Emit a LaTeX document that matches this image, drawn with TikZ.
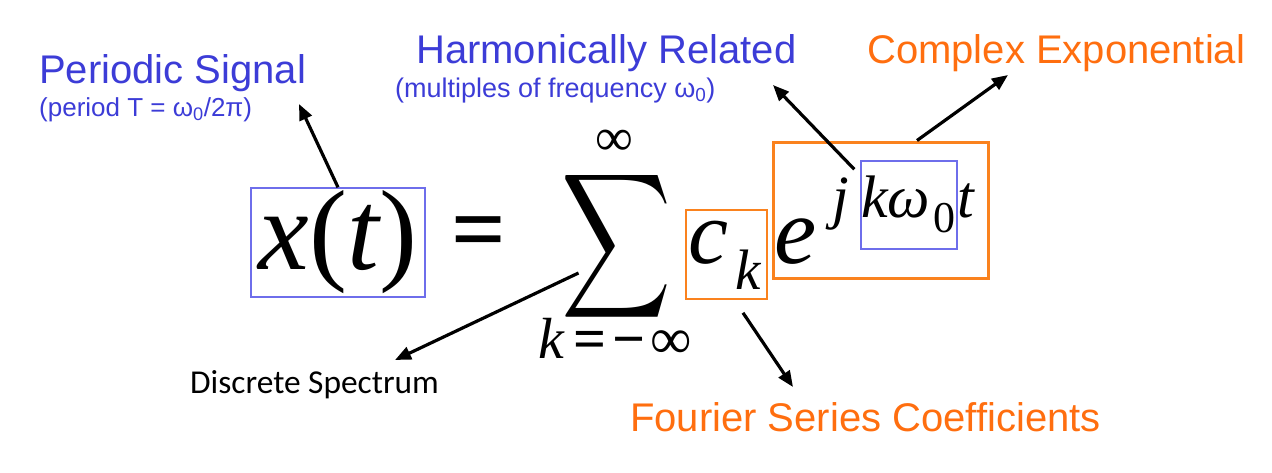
\documentclass[tikz,border=0pt]{standalone}
\usepackage{graphicx}
\usepackage{fontspec}
\usetikzlibrary{arrows.meta}
\setmainfont{Liberation Sans}
\newfontfamily\tms{Liberation Serif}
\newfontfamily\calib{Carlito}
\definecolor{lblblue}{RGB}{60,60,215}
\definecolor{boxblue}{RGB}{110,110,235}
\definecolor{lblorange}{RGB}{255,110,15}
\definecolor{boxorange}{RGB}{250,130,30}
\newcommand\sz[1]{\fontsize{#1}{#1}\selectfont}

\begin{document}
\begin{tikzpicture}[x=1pt,y=-1pt,
    lbl/.style={inner sep=0pt,anchor=base west},
    arr/.style={line width=3.2pt,-{Triangle[length=16pt,width=13pt]}}]
    \useasboundingbox (0,0) rectangle (1272,472);
    \node[lbl,text=lblblue,font=\sz{40}] (ps) at (39,83) {Periodic Signal};
    \node[lbl,text=lblblue,font=\sz{26}] (pssub) at (39,116) {(period T = ω\textsubscript{0}/2π)};
    \node[lbl,text=lblblue,font=\sz{40}] (hr) at (416,63) {Harmonically Related};
    \node[lbl,text=lblblue,font=\sz{27}] (hrsub) at (395,97) {(multiples of frequency ω\textsubscript{0})};
    \node[lbl,text=lblorange,font=\sz{40}] (ce) at (867,63) {Complex Exponential};
    \node[lbl,font=\calib\sz{33.4}] (ds) at (190,393) {Discrete Spectrum};
    \node[lbl,text=lblorange,font=\sz{40}] (fsc) at (630,431) {Fourier Series Coefficients};

    \node[draw=boxblue,line width=1.4pt,minimum width=174pt,minimum height=109pt,inner sep=0pt,font=\tms\sz{114}] (xt) at (338,242.5) {\itshape x\upshape(\itshape t\upshape)};
    \node[inner sep=0pt,font=\tms\bfseries\sz{96}] (eq) at (479,239.5) {=};
    \node[inner sep=0pt] (sum) at (616.5,246) {\resizebox*{110pt}{162pt}{$\displaystyle\sum$}};
    \node[inner sep=0pt,font=\tms\sz{53}] (suminf) at (614,143) {∞};
    \node[lbl,font=\tms\sz{58}] (sumlow) at (538,358) {\itshape k\upshape\kern10pt\bfseries=\kern6pt−\mdseries\kern4pt∞};

    \node[draw=boxorange,line width=1.6pt,minimum width=81pt,minimum height=89pt,inner sep=0pt] (ckbox) at (726.5,254.5) {};
    \node[lbl,font=\tms\itshape\sz{90}] (c) at (688,263) {c};
    \node[lbl,font=\tms\itshape\sz{57}] (k) at (735,289) {k};
    \node[draw=boxorange,line width=3pt,minimum width=215pt,minimum height=136pt,inner sep=0pt] (expbox) at (880.5,210) {};
    \node[draw=boxblue,line width=1.4pt,minimum width=96pt,minimum height=88pt,inner sep=0pt] (kwbox) at (909,205) {};
    \node[lbl,font=\tms\itshape\sz{95}] (e) at (774,263) {e};
    \node[lbl,font=\tms\itshape\sz{60}] (j) at (832,217) {j};
    \node[lbl,font=\tms\itshape\sz{60}] (kw) at (861,217) {kω};
    \node[lbl,font=\tms\sz{44}] (zero) at (933,232) {0};
    \node[lbl,font=\tms\itshape\sz{60}] (t) at (957,217) {t};

    \coordinate (psTip) at (299,104);
    \coordinate (hrTip) at (773,85);
    \coordinate (ceTip) at (1008,75);
    \coordinate (dsTip) at (395,360);
    \coordinate (fscTip) at (793,387);
    \draw[arr] (xt.north) -- (psTip);
    \draw[arr] ([xshift=-6pt,yshift=-9pt]kwbox.north west) -- (hrTip);
    \draw[arr] ([xshift=36.5pt]expbox.north) -- (ceTip);
    \draw[arr] ([xshift=-38pt,yshift=-27pt]sum.center) -- (dsTip);
    \draw[arr] ([xshift=16.5pt,yshift=-13pt]ckbox.south) -- (fscTip);
\end{tikzpicture}
\end{document}
